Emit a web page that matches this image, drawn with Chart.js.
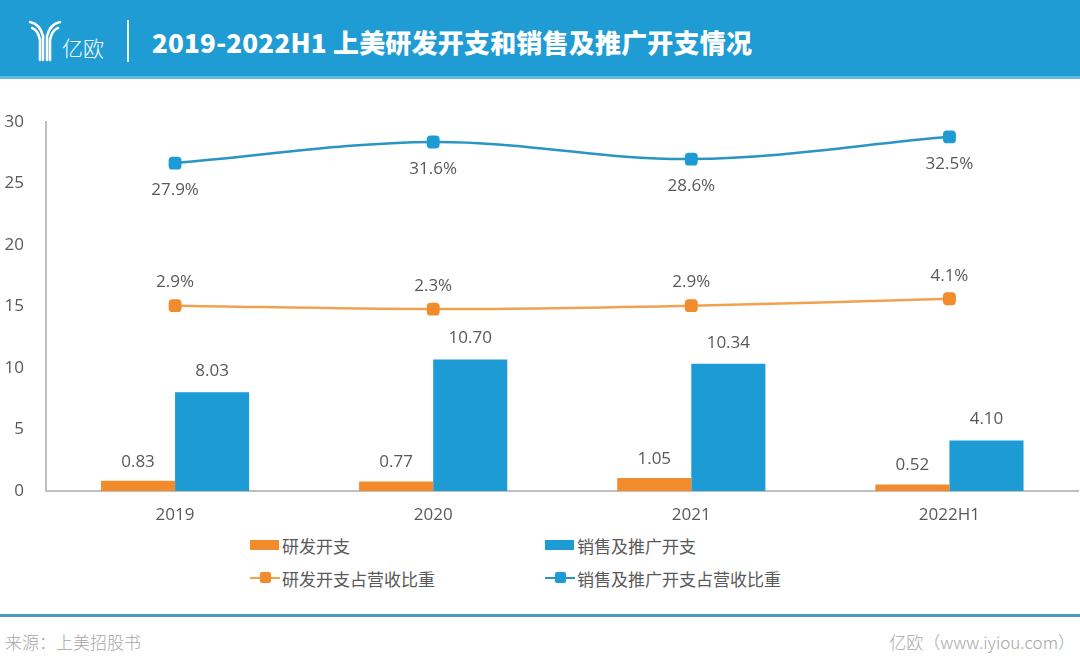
<!DOCTYPE html>
<html>
<head>
<meta charset="utf-8">
<script src="https://cdn.jsdelivr.net/npm/chart.js@4/dist/chart.umd.min.js"></script>
<style>
  html, body { margin: 0; padding: 0; background: #fff; }
  body { width: 1080px; height: 668px; position: relative; overflow: hidden;
         font-family: "Open Sans", "Noto Sans CJK SC", sans-serif; color: #595959; }
  #header { position: absolute; left: 0; top: 0; width: 1080px; height: 76px; background: #1f9cd4;
            border-bottom: 3px solid #62b9e1; }
  #logo { position: absolute; left: 28px; top: 18px; }
  #logoText { position: absolute; left: 62px; top: 33px; color: #fff; font-size: 21px;
              font-family: "Noto Sans CJK SC", sans-serif; font-weight: 300; line-height: 28px; }
  #divider { position: absolute; left: 127px; top: 20px; width: 2px; height: 42px; background: #fff; opacity: 0.9; }
  #title { position: absolute; left: 152px; top: 23px; color: #fff; font-size: 26px; font-weight: 900;
           font-family: "Noto Sans CJK SC", sans-serif; letter-spacing: 0.2px; line-height: 38px; }
  #wrap { position: absolute; left: 0; top: 95px; width: 1080px; height: 435px; overflow: hidden; }
  #legend { position: absolute; left: 0; top: 530px; width: 1080px; height: 70px; font-size: 17px;
            font-family: "Noto Sans CJK SC", sans-serif; color: #595959; }
  .item { position: absolute; display: flex; align-items: center; height: 24px; }
  .sw { position: relative; width: 30px; height: 24px; margin-right: 2px; }
  .bar { position: absolute; left: 0; top: 7px; width: 29px; height: 10px; }
  .ln { position: absolute; left: 0; top: 11px; width: 30px; height: 2px; }
  .mk { position: absolute; left: 10px; top: 6px; width: 11px; height: 11px; border-radius: 2px; }
  #footline { position: absolute; left: 0; top: 614px; width: 1080px; height: 3px; background: #4f98bd; }
  #src { position: absolute; left: 5px; top: 629px; font-size: 17px; color: #a6a6a6; font-weight: 300;
         font-family: "Noto Sans CJK SC", sans-serif; }
  #site { position: absolute; right: 5px; top: 629px; font-size: 17px; color: #a6a6a6; font-weight: 300;
          font-family: "Noto Sans CJK SC", sans-serif; }
</style>
</head>
<body>
<div id="header">
  <svg id="logo" width="34" height="44" viewBox="0 0 34 44">
    <g fill="none" stroke="#fff" stroke-width="2.6" stroke-linecap="round">
      <path d="M2 4 Q12 6 15 18 L15 42"/>
      <path d="M32 4 Q22 6 19 18 L19 42"/>
      <path d="M4 10 Q10 12 12 22 L12 42"/>
      <path d="M30 10 Q24 12 22 22 L22 42"/>
    </g>
  </svg>
  <div id="logoText">亿欧</div>
  <div id="divider"></div>
  <div id="title">2019-2022H1 上美研发开支和销售及推广开支情况</div>
</div>
<div id="wrap"><canvas id="c" width="1086" height="435"></canvas></div>
<div id="legend"></div>
<div id="footline"></div>
<div id="src">来源：上美招股书</div>
<div id="site">亿欧（www.iyiou.com）</div>
<script>
var years = ['2019', '2020', '2021', '2022H1'];
var rdSpend = [0.83, 0.77, 1.05, 0.52];
var salesSpend = [8.03, 10.70, 10.34, 4.10];
var rdRatio = [2.9, 2.3, 2.9, 4.1];
var salesRatio = [27.9, 31.6, 28.6, 32.5];
var yTicks = [0, 5, 10, 15, 20, 25, 30];

var orange = '#f28b2c';
var blue = '#1c9bd4';
var orangeLine = '#f2a150';
var blueLine = '#2a94c2';
var textGray = '#595959';

// draws value labels next to each mark
var valueLabels = {
    id: 'valueLabels',
    afterDatasetsDraw: function(chart) {
        var ctx = chart.ctx;
        ctx.save();
        ctx.font = '17px "Open Sans", sans-serif';
        ctx.fillStyle = textGray;
        ctx.textAlign = 'center';
        ctx.textBaseline = 'middle';
        chart.data.datasets.forEach(function(ds, i) {
            var meta = chart.getDatasetMeta(i);
            meta.data.forEach(function(el, j) {
                var v = ds.data[j];
                var txt = ds.isRatio ? v.toFixed(1) + '%' : v.toFixed(2);
                ctx.fillText(txt, el.x, el.y + ds.labelOffset);
            });
        });
        ctx.restore();
    }
};

var chart = new Chart(document.getElementById('c').getContext('2d'), {
    type: 'bar',
    data: {
        labels: years,
        datasets: [
            { type: 'line', label: '研发开支占营收比重', data: rdRatio, yAxisID: 'y1', isRatio: true, labelOffset: -23,
              borderColor: orangeLine, backgroundColor: orange, borderWidth: 2.5, tension: 0.35,
              pointStyle: 'rectRounded', pointRadius: 7.5, pointBorderWidth: 0, order: 0 },
            { type: 'line', label: '销售及推广开支占营收比重', data: salesRatio, yAxisID: 'y1', isRatio: true, labelOffset: 27,
              borderColor: blueLine, backgroundColor: blue, borderWidth: 2.5, tension: 0.35,
              pointStyle: 'rectRounded', pointRadius: 7.5, pointBorderWidth: 0, order: 0 },
            { label: '研发开支', data: rdSpend, backgroundColor: orange, yAxisID: 'y', labelOffset: -19,
              categoryPercentage: 0.574, barPercentage: 1, order: 1 },
            { label: '销售及推广开支', data: salesSpend, backgroundColor: blue, yAxisID: 'y', labelOffset: -21,
              categoryPercentage: 0.574, barPercentage: 1, order: 1 }
        ]
    },
    options: {
        responsive: false,
        animation: false,
        layout: { padding: { top: 27, right: 0, left: 0, bottom: 0 } },
        plugins: { legend: { display: false }, tooltip: { enabled: false } },
        scales: {
            x: {
                grid: { display: false },
                border: { color: '#bfbfbf', width: 2 },
                ticks: { color: textGray, font: { size: 17, family: '"Open Sans", sans-serif' }, padding: 6 },
                afterFit: function(s) { s.height = 39; }
            },
            y: {
                min: 0, max: 30,
                afterBuildTicks: function(s) { s.ticks = yTicks.map(function(v) { return { value: v }; }); },
                grid: { display: false },
                border: { color: '#bfbfbf', width: 2 },
                ticks: { color: textGray, font: { size: 17, family: '"Open Sans", sans-serif' }, padding: 14 },
                afterFit: function(s) { s.width = 46; }
            },
            y1: { display: false, min: -29.6, max: 35.1 }
        }
    },
    plugins: [valueLabels]
});

// legend in a 2x2 grid
var legendItems = [
    { text: '研发开支', kind: 'bar', color: orange, x: 250, y: 533 },
    { text: '销售及推广开支', kind: 'bar', color: blue, x: 545, y: 533 },
    { text: '研发开支占营收比重', kind: 'line', color: orange, line: orangeLine, x: 250, y: 566 },
    { text: '销售及推广开支占营收比重', kind: 'line', color: blue, line: blueLine, x: 545, y: 566 }
];
var lg = document.getElementById('legend');
legendItems.forEach(function(it) {
    var d = document.createElement('div');
    d.className = 'item';
    d.style.left = it.x + 'px';
    d.style.top = (it.y - 530) + 'px';
    var sw = '<div class="sw">';
    if (it.kind === 'bar') {
        sw += '<div class="bar" style="background:' + it.color + '"></div>';
    } else {
        sw += '<div class="ln" style="background:' + it.line + '"></div><div class="mk" style="background:' + it.color + '"></div>';
    }
    sw += '</div>';
    d.innerHTML = sw + '<span>' + it.text + '</span>';
    lg.appendChild(d);
});
</script>
</body>
</html>
